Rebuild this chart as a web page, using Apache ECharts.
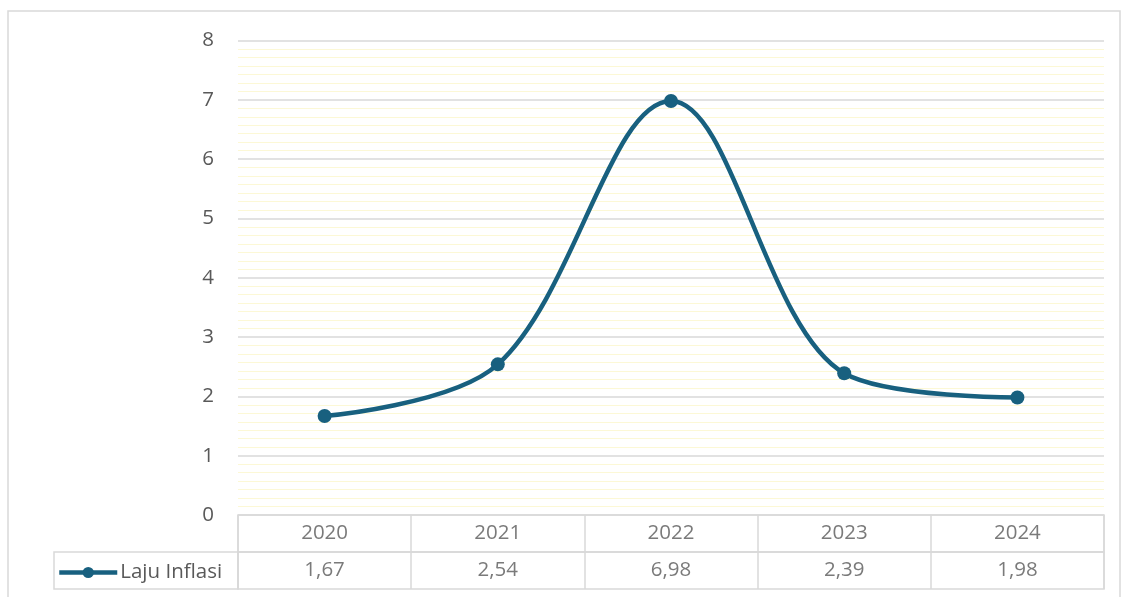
<!DOCTYPE html>
<html>
<head>
<meta charset="utf-8">
<script src="https://cdn.jsdelivr.net/npm/echarts@6/dist/echarts.min.js"></script>
<style>html,body{margin:0;padding:0;background:#fff;}#c{width:1123px;height:597px;}</style>
</head>
<body>
<div id="c"></div>
<script>
const categories = ['2020', '2021', '2022', '2023', '2024'];
const seriesName = 'Laju Inflasi';
const values = [1.67, 2.54, 6.98, 2.39, 1.98];
const yTicks = { min: 0, max: 8, interval: 1 };

const fmt = v => v.toFixed(2).replace('.', ',');
const FONT = 'Open Sans';
const FS = 20.5;
const TXT = '#595959';
const GRIDC = '#d9d9d9';
const LINEC = '#18607f';

const chart = echarts.init(document.getElementById('c'), null, { renderer: 'canvas' });
const tableAxis = idx => ({
  type: 'category', gridIndex: idx, data: categories, boundaryGap: true,
  axisLine: { show: false }, axisTick: { show: false }, axisLabel: { show: false },
  splitLine: { show: true, lineStyle: { color: GRIDC, width: 1.5 } }
});
const tableY = idx => ({ type: 'value', gridIndex: idx, min: 0, max: 1, show: false });
const labelSeries = (idx, texts) => ({
  type: 'scatter', xAxisIndex: idx, yAxisIndex: idx, symbolSize: 0, silent: true,
  data: categories.map((c, i) => ({ value: [c, 0.5], label: { formatter: texts[i] } })),
  label: { show: true, position: 'inside', color: TXT, fontSize: FS, fontFamily: FONT }
});

chart.setOption({
  animation: false,
  graphic: [{ type: 'rect', shape: { x: 8, y: 11, width: 1112, height: 600 }, style: { fill: 'none', stroke: GRIDC, lineWidth: 1.5 }, silent: true }],
  legend: {
    data: [seriesName], left: 57, top: 562, itemWidth: 58, itemHeight: 14, itemGap: 4,
    lineStyle: { width: 4.5 },
    textStyle: { color: TXT, fontSize: FS, fontFamily: FONT, padding: [0, 0, 0, -2] }, padding: 0
  },
  grid: [
    { left: 238, right: 19, top: 40.5, height: 474.5, containLabel: false },
    { left: 238, right: 19, top: 515, height: 37, show: true, borderColor: GRIDC, borderWidth: 1.5 },
    { left: 238, right: 19, top: 552, height: 37, show: true, borderColor: GRIDC, borderWidth: 1.5 },
    { left: 54, width: 184, top: 552, height: 37, show: true, borderColor: GRIDC, borderWidth: 1.5 }
  ],
  xAxis: [
    { type: 'category', gridIndex: 0, data: categories, boundaryGap: true,
      axisLine: { show: false }, axisTick: { show: false }, axisLabel: { show: false }, splitLine: { show: false } },
    tableAxis(1), tableAxis(2),
    { type: 'value', gridIndex: 3, show: false, min: 0, max: 1 }
  ],
  yAxis: [
    { type: 'value', gridIndex: 0, min: yTicks.min, max: yTicks.max, interval: yTicks.interval,
      axisLine: { show: false }, axisTick: { show: false },
      axisLabel: { color: TXT, fontSize: FS, fontFamily: FONT, margin: 24 },
      splitLine: { show: true, lineStyle: { color: GRIDC, width: 1.5 } },
      minorTick: { show: false, splitNumber: 7 },
      minorSplitLine: { show: true, lineStyle: { color: '#fcf8d6', width: 1.2 } } },
    tableY(1), tableY(2), tableY(3)
  ],
  series: [
    { name: seriesName, type: 'line', xAxisIndex: 0, yAxisIndex: 0, data: values, smooth: 0.35,
      symbol: 'circle', symbolSize: 14, lineStyle: { color: LINEC, width: 4.5 },
      itemStyle: { color: LINEC }, z: 5 },
    labelSeries(1, categories),
    labelSeries(2, values.map(fmt))
  ]
});
</script>
</body>
</html>
